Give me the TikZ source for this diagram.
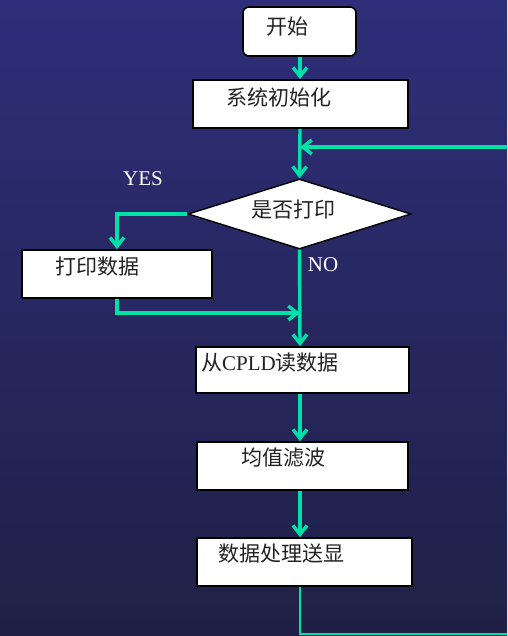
\documentclass[tikz,border=0pt]{standalone}
\usepackage{fontspec}
\setmainfont{Liberation Serif}
\newfontfamily\cjk{Noto Sans CJK SC}
\usetikzlibrary{shapes.geometric,arrows.meta}
\definecolor{bgtop}{HTML}{2E2E7A}
\definecolor{bgbot}{HTML}{202046}
\definecolor{flow}{HTML}{00E0A8}
\definecolor{txt}{HTML}{222222}
\tikzset{
  box/.style={draw=black,line width=1.6pt,fill=white,inner sep=0pt},
  lbl/.style={font=\fontsize{21}{21}\selectfont,text=txt,inner sep=0pt},
  wlbl/.style={font=\fontsize{21}{21}\selectfont,text=white,inner sep=0pt},
  arr/.style={draw=flow,line width=3.4pt,-{Straight Barb[length=9pt,width=14pt,line width=3.4pt]}},
  plain/.style={draw=flow,line width=3.2pt},
  thinline/.style={draw=flow,line width=2pt}
}
\begin{document}
\begin{tikzpicture}[x=1pt,y=-1pt]
\useasboundingbox (0,0) rectangle (507,636);
\shade[top color=bgtop,bottom color=bgbot] (0,0) rectangle (507,636);
\clip (0,0) rectangle (507,636);
\coordinate (spine) at (300,0);

\node[box,rounded corners=6pt,minimum width=113pt,minimum height=49pt,
  label={[lbl,xshift=-12pt,yshift=4.5pt]center:\cjk 开始}] (start) at (299.5,31.5) {};
\node[box,minimum width=215pt,minimum height=48pt,
  label={[lbl,xshift=-21.5pt,yshift=7pt]center:\cjk 系统初始化}] (init) at (300.5,104) {};
\node[draw=black,line width=1.4pt,fill=white,diamond,aspect=3.19,minimum width=223pt,minimum height=70pt,inner sep=0pt,
  label={[lbl,xshift=-6pt,yshift=4pt]center:\cjk 是否打印}] (dia) at (299.5,214) {};
\node[box,minimum width=190pt,minimum height=48pt,
  label={[lbl,xshift=-20pt,yshift=7pt]center:\cjk 打印数据}] (pb) at (117,274) {};
\node[box,minimum width=213pt,minimum height=46pt,
  label={[lbl,xshift=-32.5pt,yshift=7pt]center:{\cjk 从}CPLD{\cjk 读数据}}] (cpld) at (302.5,370) {};
\node[box,minimum width=211pt,minimum height=48pt,
  label={[lbl,xshift=-19pt,yshift=8pt]center:\cjk 均值滤波}] (avg) at (302.5,466) {};
\node[box,minimum width=215pt,minimum height=48pt,
  label={[lbl,xshift=-23pt,yshift=8pt]center:\cjk 数据处理送显}] (proc) at (304.5,562) {};

\node[wlbl] (yes) at (143,179) {YES};
\node[wlbl] (no) at (323,265) {NO};

\coordinate (join) at (300,147);
\coordinate (merge) at (300,313);
\coordinate (lb) at (300,634);
\coordinate (rb) at (520,634);
\coordinate (rt) at (520,147);

\draw[arr] (spine |- start.south) -- (spine |- init.north);
\draw[arr] (spine |- init.south) -- (dia.north);
\draw[arr] (rt) -- (join);
\draw[arr] (dia.west) -| (pb.north);
\draw[arr] (pb.south) |- (merge);
\draw[arr] (dia.south) -- (spine |- cpld.north);
\draw[arr] (spine |- cpld.south) -- (spine |- avg.north);
\draw[arr] (spine |- avg.south) -- (spine |- proc.north);
\draw[thinline] (spine |- proc.south) -- (lb) -- (rb) -- (rt);
\end{tikzpicture}
\end{document}
